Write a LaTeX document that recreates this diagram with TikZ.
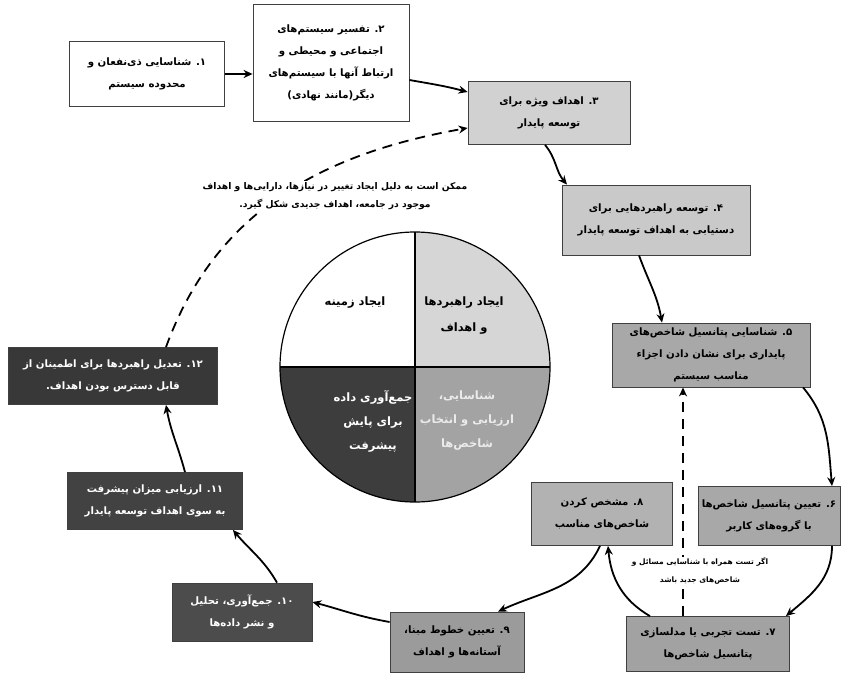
\documentclass[tikz,border=0pt]{standalone}
\usepackage{fontspec}
\newfontfamily\arabicfont[Script=Arabic]{DejaVu Sans}
\TeXXeTstate=1
\usetikzlibrary{arrows.meta}

\definecolor{stagelight}{gray}{0.82}
\definecolor{stagemid}{gray}{0.66}
\definecolor{stagedark}{gray}{0.27}
\definecolor{quadlight}{gray}{0.84}
\definecolor{quadmid}{gray}{0.64}
\definecolor{quaddark}{gray}{0.24}

\newcommand{\fa}[1]{\beginR#1\endR}

\begin{document}
\begin{tikzpicture}[x=1pt, y=1pt,
    stage/.style={draw=black!75, line width=0.8pt, align=center, inner sep=2pt,
        font={\arabicfont\bfseries\fontsize{10.2}{22}\selectfont}},
    quadtext/.style={align=center, font={\arabicfont\bfseries\fontsize{11.5}{26}\selectfont}},
    note/.style={align=center, fill=white, inner sep=1pt,
        font={\arabicfont\bfseries\fontsize{7.5}{18}\selectfont}},
    flow/.style={line width=1.8pt, -{Stealth[length=9pt,width=8pt]}},
    loopback/.style={flow, dash pattern=on 10pt off 7pt}]

    \path[use as bounding box, fill=white] (0,0) rectangle (845,-674);

    % the four phases
    \coordinate (hub) at (415,-367);
    \begin{scope}
        \clip (hub) circle[radius=135pt];
        \fill[white] (hub) rectangle ++(-135,135);
        \fill[quadlight] (hub) rectangle ++(135,135);
        \fill[quadmid] (hub) rectangle ++(135,-135);
        \fill[quaddark] (hub) rectangle ++(-135,-135);
    \end{scope}
    \draw[line width=1.2pt] (hub) circle[radius=135pt];
    \draw[line width=1.2pt] ([xshift=-135pt]hub) -- ([xshift=135pt]hub);
    \draw[line width=1.2pt] ([yshift=135pt]hub) -- ([yshift=-135pt]hub);

    \node[quadtext] (q1) at (355,-303) {\fa{ایجاد زمینه}};
    \node[quadtext] (q2) at (464,-316) {\fa{ایجاد راهبردها}\\\fa{و اهداف}};
    \node[quadtext, text=white!92!black, font={\arabicfont\bfseries\fontsize{11.5}{24}\selectfont}] (q3) at (467,-421)
        {\fa{شناسایی،}\\\fa{ارزیابی و انتخاب}\\\fa{شاخص‌ها}};
    \node[quadtext, text=white, font={\arabicfont\bfseries\fontsize{11.5}{24}\selectfont}] (q4) at (373,-421)
        {\fa{جمع‌آوری داده}\\\fa{برای پایش}\\\fa{پیشرفت}};

    % the twelve steps
    \node[stage, fill=white, minimum width=155pt, minimum height=65pt] (s1) at (147,-74)
        {\fa{۱. شناسایی ذی‌نفعان و}\\\fa{محدوده سیستم}};
    \node[stage, fill=white, minimum width=156pt, minimum height=117pt] (s2) at (331,-63)
        {\fa{۲. تفسیر سیستم‌های}\\\fa{اجتماعی و محیطی و}\\\fa{ارتباط آنها با سیستم‌های}\\\fa{دیگر(مانند نهادی)}};
    \node[stage, fill=stagelight, minimum width=162pt, minimum height=63pt] (s3) at (549,-113)
        {\fa{۳. اهداف ویژه برای}\\\fa{توسعه پایدار}};
    \node[stage, fill=stagelight!96!black, minimum width=188pt, minimum height=70pt] (s4) at (656,-220)
        {\fa{۴. توسعه راهبردهایی برای}\\\fa{دستیابی به اهداف توسعه پایدار}};
    \node[stage, fill=stagemid, minimum width=198pt, minimum height=64pt] (s5) at (711,-355)
        {\fa{۵. شناسایی پتانسیل شاخص‌های}\\\fa{پایداری برای نشان دادن اجزاء}\\\fa{مناسب سیستم}};
    \node[stage, fill=stagemid, minimum width=142pt, minimum height=59pt] (s6) at (769,-516)
        {\fa{۶. تعیین پتانسیل شاخص‌ها}\\\fa{با گروه‌های کاربر}};
    \node[stage, fill=stagemid!96!black, minimum width=163pt, minimum height=55pt] (s7) at (708,-644)
        {\fa{۷. تست تجربی یا مدلسازی}\\\fa{پتانسیل شاخص‌ها}};
    \node[stage, fill=stagelight!85!black, minimum width=141pt, minimum height=63pt] (s8) at (602,-514)
        {\fa{۸. مشخص کردن}\\\fa{شاخص‌های مناسب}};
    \node[stage, fill=stagemid!92!black, minimum width=134pt, minimum height=60pt] (s9) at (457,-642)
        {\fa{۹. تعیین خطوط مبنا،}\\\fa{آستانه‌ها و اهداف}};
    \node[stage, fill=black!70, text=white, minimum width=140pt, minimum height=58pt] (s10) at (242,-612)
        {\fa{۱۰. جمع‌آوری، تحلیل}\\\fa{و نشر داده‌ها}};
    \node[stage, fill=black!74, text=white, minimum width=175pt, minimum height=57pt] (s11) at (155,-501)
        {\fa{۱۱. ارزیابی میزان پیشرفت}\\\fa{به سوی اهداف توسعه پایدار}};
    \node[stage, fill=black!78, text=white, minimum width=209pt, minimum height=57pt] (s12) at (113,-376)
        {\fa{۱۲. تعدیل راهبردها برای اطمینان از}\\\fa{قابل دسترس بودن اهداف.}};

    % the cycle
    \draw[flow] (s1.east) -- (s1.east -| s2.west);
    \draw[flow] ([yshift=-17pt]s2.east) to[out=-10,in=165] ([yshift=21pt]s3.west);
    \draw[flow] ([xshift=-4pt]s3.south) to[out=-50,in=130] ([xshift=-89pt]s4.north);
    \draw[flow] ([xshift=-17pt]s4.south) to[out=-70,in=100] ([xshift=-49pt]s5.north);
    \draw[flow] ([xshift=92pt]s5.south) to[out=-50,in=95] ([xshift=63pt]s6.north);
    \draw[flow] ([xshift=63pt]s6.south) to[out=-90,in=40] ([xshift=-4pt]s7.north east);
    \draw[flow] ([xshift=-58pt]s7.north) to[out=150,in=-85] ([xshift=6pt]s8.south);
    \draw[flow] ([xshift=-2pt]s8.south) to[out=-115,in=25] ([xshift=41pt]s9.north);
    \draw[flow] ([yshift=20pt]s9.west) to[out=170,in=-15] ([yshift=10pt]s10.east);
    \draw[flow] ([xshift=35pt]s10.north) to[out=120,in=-50] ([xshift=-10pt]s11.south east);
    \draw[flow] ([xshift=30pt]s11.north) to[out=105,in=-80] ([xshift=53pt]s12.south);

    % feedback loops
    \draw[loopback] ([xshift=53pt]s12.north) to[out=70,in=190] ([yshift=-15pt]s3.west);
    \draw[loopback] ([xshift=-25pt]s7.north) -- ([xshift=-28pt]s5.south);

    \node[note, font={\arabicfont\bfseries\fontsize{9.2}{18}\selectfont}] (n1) at (335,-196)
        {\fa{ممکن است به دلیل ایجاد تغییر در نیازها، دارایی‌ها و اهداف}\\\fa{موجود در جامعه، اهداف جدیدی شکل گیرد.}};
    \node[note] (n2) at (700,-571)
        {\fa{اگر تست همراه با شناسایی مسائل و}\\\fa{شاخص‌های جدید باشد}};
\end{tikzpicture}
\end{document}
